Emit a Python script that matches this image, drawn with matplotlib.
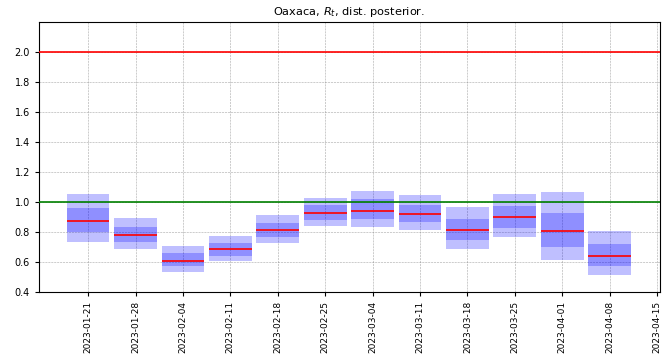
import numpy as np
import pandas as pd
import matplotlib
matplotlib.use("Agg")
import matplotlib.pyplot as plt
import matplotlib.dates as mdates

# Weekly posterior summaries of R_t
dates = pd.to_datetime(["2023-01-21", "2023-01-28", "2023-02-04", "2023-02-11",
                        "2023-02-18", "2023-02-25", "2023-03-04", "2023-03-11",
                        "2023-03-18", "2023-03-25", "2023-04-01", "2023-04-08"])
q05 = [0.731, 0.687, 0.531, 0.607, 0.727, 0.838, 0.833, 0.813, 0.689, 0.764, 0.611, 0.513]
q25 = [0.802, 0.736, 0.571, 0.642, 0.767, 0.882, 0.884, 0.867, 0.747, 0.824, 0.702, 0.573]
q50 = [0.875, 0.780, 0.609, 0.684, 0.813, 0.929, 0.942, 0.920, 0.813, 0.898, 0.807, 0.642]
q75 = [0.962, 0.833, 0.660, 0.729, 0.860, 0.980, 1.020, 0.980, 0.887, 0.973, 0.929, 0.722]
q95 = [1.053, 0.891, 0.707, 0.773, 0.913, 1.029, 1.073, 1.044, 0.969, 1.053, 1.069, 0.807]
tick_dates = pd.date_range("2023-01-21", "2023-04-15", freq="7D")

q05, q25, q50, q75, q95 = map(np.array, (q05, q25, q50, q75, q95))

fig = plt.figure(figsize=(6.72, 3.58), dpi=100)
ax = fig.add_axes([0.058, 0.184, 0.924, 0.755])

x = mdates.date2num(dates)
w = 6.3
ax.bar(x, q95 - q05, bottom=q05, width=w, color="blue", alpha=0.25, linewidth=0, zorder=2)
ax.bar(x, q75 - q25, bottom=q25, width=w, color="blue", alpha=0.25, linewidth=0, zorder=2)
ax.hlines(q50, x - w / 2, x + w / 2, colors="red", linewidth=1.2, zorder=3)

ax.axhline(2.0, color="red", linewidth=1.2, zorder=3)
ax.axhline(1.0, color="green", linewidth=1.2, zorder=3)

ax.set_ylim(0.4, 2.2)
ax.set_yticks(np.arange(0.4, 2.01, 0.2))
ax.yaxis.set_major_formatter(matplotlib.ticker.FormatStrFormatter("%.1f"))
ax.set_xlim(mdates.date2num(pd.Timestamp("2023-01-13 18:00")),
            mdates.date2num(pd.Timestamp("2023-04-15 10:00")))
ax.set_xticks(mdates.date2num(tick_dates))
ax.set_xticklabels([d.strftime("%Y-%m-%d") for d in tick_dates], rotation=90)
ax.tick_params(axis="x", labelsize=6.5, length=3)
ax.tick_params(axis="y", labelsize=7, length=3)
ax.grid(True, color="gray", linestyle="--", linewidth=0.4, alpha=0.7, zorder=0)
ax.set_axisbelow(True)
ax.set_title(r"Oaxaca, $R_t$, dist. posterior.", fontsize=8.2, pad=5)

fig.savefig("out.png", dpi=100)
